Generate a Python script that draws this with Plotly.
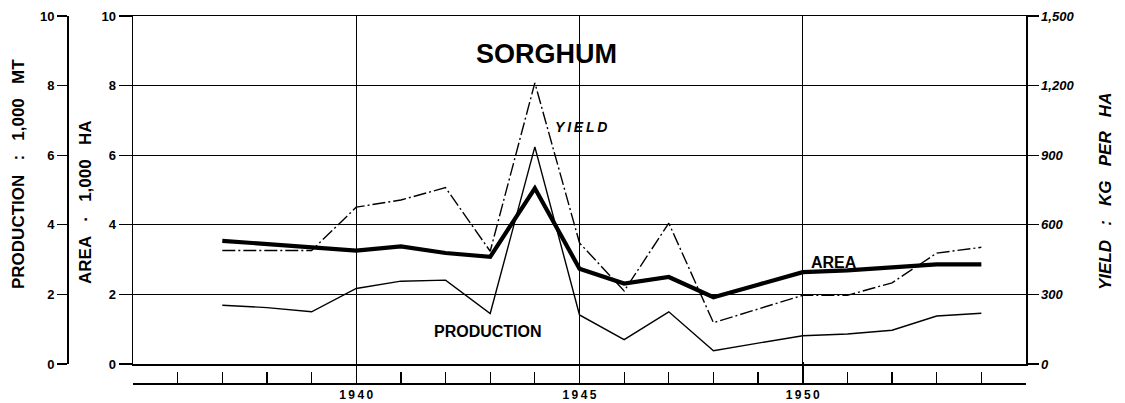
import plotly.graph_objects as go

years = [1937, 1938, 1939, 1940, 1941, 1942, 1943, 1944, 1945, 1946, 1947, 1948, 1949, 1950, 1951, 1952, 1953, 1954]
area = [3.54, 3.45, 3.36, 3.26, 3.38, 3.19, 3.08, 5.05, 2.74, 2.31, 2.50, 1.92, 2.28, 2.64, 2.69, 2.76, 2.86, 2.86]
production = [1.69, 1.62, 1.50, 2.17, 2.38, 2.41, 1.45, 6.24, 1.41, 0.70, 1.50, 0.38, 0.60, 0.81, 0.86, 0.97, 1.38, 1.46]
yield_kg = [489, 489, 489, 676, 707, 760, 486, 1212, 522, 315, 607, 178, 238, 296, 296, 350, 478, 503]

left_ticks = [0, 2, 4, 6, 8, 10]
yield_ticks = [0, 300, 600, 900, 1200, 1500]
year_labels = [1940, 1945, 1950]

W, H = 1125, 403
def px(x):
    return x / W
def py(y):
    return 1 - y / H

FONT = "Liberation Sans"
NB = "\u00a0"
TS = "\u2009"
fig = go.Figure()

fig.add_trace(go.Scatter(x=years, y=yield_kg, yaxis="y3", mode="lines",
                         line=dict(color="black", width=1.4, dash="13px,3px,2px,3px"),
                         showlegend=False, hoverinfo="skip"))
fig.add_trace(go.Scatter(x=years, y=production, yaxis="y2", mode="lines",
                         line=dict(color="black", width=1.4),
                         showlegend=False, hoverinfo="skip"))
fig.add_trace(go.Scatter(x=years, y=area, yaxis="y", mode="lines",
                         line=dict(color="black", width=4.2),
                         showlegend=False, hoverinfo="skip"))
# invisible trace to anchor the lower bracket axis
fig.add_trace(go.Scatter(x=years, y=area, xaxis="x2", yaxis="y", mode="lines",
                         line=dict(color="rgba(0,0,0,0)", width=0),
                         showlegend=False, hoverinfo="skip"))

xdom = [px(133), px(1026)]
ydom = [py(364), py(16)]
tickfont = dict(family=FONT, size=13, color="black", weight="bold")

fig.update_layout(
    width=W, height=H,
    margin=dict(l=0, r=0, t=0, b=0, autoexpand=False),
    paper_bgcolor="white", plot_bgcolor="white",
    xaxis=dict(domain=xdom, range=[1935, 1955], anchor="y", automargin=False,
               tickvals=year_labels, showticklabels=False, ticks="",
               showgrid=True, gridcolor="black", gridwidth=1,
               showline=True, linecolor="black", linewidth=1.5, mirror=True,
               zeroline=False, fixedrange=True),
    xaxis2=dict(domain=xdom, range=[1935, 1955], overlaying="x", anchor="free",
                position=py(383), side="bottom", automargin=False,
                tickvals=year_labels, ticktext=[TS.join(str(v)) for v in year_labels],
                ticks="inside", ticklen=21, tickwidth=1.5, tickcolor="black",
                minor=dict(dtick=1, tick0=1935, ticks="inside", ticklen=11, tickcolor="black", tickwidth=1.2),
                showline=True, linecolor="black", linewidth=1.5,
                showgrid=False, zeroline=False,
                tickfont=dict(family=FONT, size=12, color="black", weight="bold")),
    yaxis=dict(domain=ydom, range=[0, 10], tickvals=left_ticks, automargin=False,
               ticks="outside", ticklen=13, tickwidth=1.2, tickcolor="black",
               showgrid=True, gridcolor="black", gridwidth=1,
               showline=True, linecolor="black", linewidth=1.5,
               zeroline=False, tickfont=tickfont),
    yaxis2=dict(domain=ydom, range=[0, 10], tickvals=left_ticks, overlaying="y",
                anchor="free", position=px(67), side="left", automargin=False,
                ticks="outside", ticklen=10, tickwidth=1.2, tickcolor="black",
                showgrid=False, showline=True, linecolor="black", linewidth=1.5,
                zeroline=False, tickfont=tickfont),
    yaxis3=dict(domain=ydom, range=[0, 1500], tickvals=yield_ticks, overlaying="y",
                anchor="x", side="right", tickformat=",", automargin=False,
                ticks="outside", ticklen=11, tickwidth=1.2, tickcolor="black",
                showgrid=False, showline=True, linecolor="black", linewidth=1.5,
                zeroline=False,
                tickfont=dict(family=FONT, size=13, color="black", weight="bold", style="italic")),
)

def ann(text, x, y, size, angle=0, italic=False):
    fig.add_annotation(text=text, x=px(x), y=py(y), xref="paper", yref="paper",
                       showarrow=False, textangle=angle,
                       font=dict(family=FONT, size=size, color="black", weight="bold",
                                 style="italic" if italic else "normal"),
                       xanchor="center", yanchor="middle")

ann("PRODUCTION" + NB * 3 + ":" + NB * 3 + "1,000" + NB * 3 + "MT", 18, 174, 17, angle=-90)
ann("AREA" + NB * 3 + "·" + NB * 3 + "1,000" + NB * 3 + "HA", 85, 203, 17, angle=-90)
ann("YIELD" + NB * 3 + ":" + NB * 3 + "KG" + NB * 3 + "PER" + NB * 3 + "HA", 1105, 192, 17, angle=-90, italic=True)
ann("SORGHUM", 546, 54, 27)
ann(TS.join("YIELD"), 581, 127, 14, italic=True)
ann("PRODUCTION", 488, 331, 16)
ann("AREA", 834, 262, 16)

fig.write_html("out.html", config={"displayModeBar": False, "staticPlot": True},
               post_script="document.body.style.margin='0';document.body.style.padding='0';document.body.style.overflow='hidden';")
